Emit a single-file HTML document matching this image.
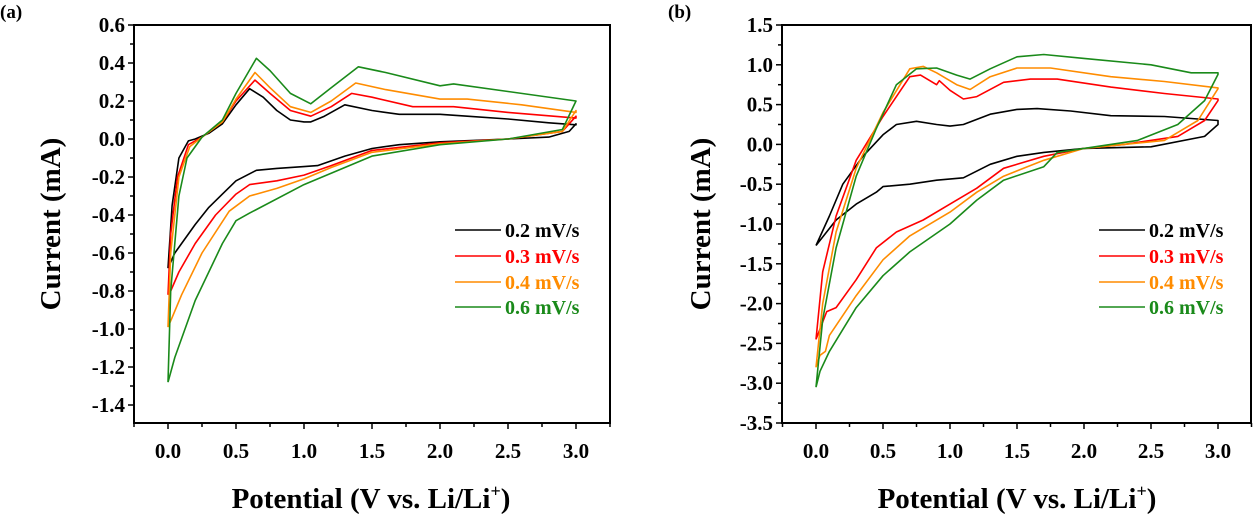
<!DOCTYPE html>
<html><head><meta charset="utf-8"><style>
html,body{margin:0;padding:0;background:#fff;}
svg{display:block;font-family:"Liberation Serif",serif;font-weight:bold;}
</style></head><body>
<svg id="s" width="1260" height="514" viewBox="0 0 1260 514" xmlns="http://www.w3.org/2000/svg"></svg>
<script>
const S=document.getElementById('s');let h='';
const C={k:'#000',r:'#ff0000',o:'#ff8c00',g:'#1a8a1a'};
function panel(p){
 const X=v=>p.x0+p.sx*v, Y=i=>p.y0-p.sy*i;
 h+=`<rect x="${p.L}" y="${p.T}" width="${p.R-p.L}" height="${p.B-p.T}" fill="none" stroke="#000" stroke-width="2"/>`;
 for(let k=-1;k<=13;k++){const v=k*0.25;const x=X(v);if(x<p.L-1||x>p.R+1)continue;const maj=(k%2==0);
  h+=`<line x1="${x}" y1="${p.B}" x2="${x}" y2="${p.B+(maj?6:4)}" stroke="#000" stroke-width="1.5"/>`;
  if(maj&&v>=0) h+=`<text x="${x}" y="${p.B+35}" font-size="21" text-anchor="middle">${v.toFixed(1)}</text>`;}
 for(let i=p.ymin;i<=p.ymax+1e-9;i+=p.ystep/2){const y=Y(i);const maj=Math.abs(Math.round((i-p.ymin)/p.ystep*2))%2==0;
  h+=`<line x1="${p.L}" y1="${y}" x2="${p.L-(maj?6:4)}" y2="${y}" stroke="#000" stroke-width="1.5"/>`;
  if(maj) h+=`<text x="${p.L-9}" y="${y+7}" font-size="21" text-anchor="end">${(Math.abs(i)<1e-9?0:i).toFixed(1)}</text>`;}
 for(const [c,pts] of p.series){h+=`<polyline fill="none" stroke="${C[c]}" stroke-width="1.6" stroke-linejoin="round" points="${pts.map(q=>X(q[0]).toFixed(1)+','+Y(q[1]).toFixed(1)).join(' ')}"/>`;}
 h+=`<text x="${p.xl}" y="508" font-size="29" text-anchor="middle">Potential (V vs. Li/Li<tspan dy="-11" font-size="18">+</tspan><tspan dy="11">)</tspan></text>`;
 h+=`<text transform="translate(${p.yl},224) rotate(-90)" font-size="29" text-anchor="middle">Current (mA)</text>`;
 const lab=['0.2 mV/s','0.3 mV/s','0.4 mV/s','0.6 mV/s'],cs=['k','r','o','g'];
 lab.forEach((t,j)=>{const y=[230,256,282,307][j];h+=`<line x1="${p.lg}" y1="${y}" x2="${p.lg+46}" y2="${y}" stroke="${C[cs[j]]}" stroke-width="1.6"/><text x="${p.lg+50}" y="${y+7}" font-size="20" fill="${C[cs[j]]}">${t}</text>`;});
 h+=`<text x="${p.lx}" y="18" font-size="19">${p.lt}</text>`;
}
panel({x0:168,sx:136,y0:139,sy:190,L:134,R:610,T:25,B:423,ymin:-1.4,ymax:0.6,ystep:0.2,xl:371,yl:60,lg:455,lx:0,lt:'(a)',series:[
['k',[[0,-0.68],[0.03,-0.35],[0.08,-0.1],[0.15,-0.01],[0.2,0],[0.3,0.03],[0.4,0.08],[0.5,0.18],[0.6,0.265],[0.7,0.22],[0.8,0.15],[0.9,0.1],[1.0,0.09],[1.05,0.09],[1.15,0.12],[1.3,0.18],[1.5,0.15],[1.7,0.13],[2.0,0.13],[2.2,0.12],[2.5,0.105],[2.8,0.085],[3.0,0.075],[3.0,0.08],[2.95,0.04],[2.8,0.01],[2.5,0],[2.0,-0.015],[1.7,-0.03],[1.5,-0.05],[1.3,-0.09],[1.1,-0.14],[1.0,-0.145],[0.8,-0.155],[0.65,-0.165],[0.5,-0.22],[0.4,-0.29],[0.3,-0.36],[0.2,-0.45],[0.1,-0.55],[0.05,-0.6],[0,-0.68]]],
['r',[[0,-0.82],[0.02,-0.5],[0.07,-0.2],[0.15,-0.03],[0.25,0.01],[0.4,0.09],[0.5,0.2],[0.64,0.31],[0.75,0.24],[0.9,0.15],[1.05,0.12],[1.2,0.17],[1.35,0.24],[1.5,0.22],[1.8,0.17],[2.1,0.17],[2.5,0.14],[3.0,0.11],[3.0,0.12],[2.9,0.04],[2.5,0],[2.0,-0.02],[1.5,-0.06],[1.2,-0.14],[1.0,-0.19],[0.8,-0.22],[0.6,-0.24],[0.5,-0.29],[0.35,-0.4],[0.2,-0.55],[0.08,-0.7],[0.02,-0.8],[0,-0.82]]],
['o',[[0,-0.99],[0.02,-0.6],[0.08,-0.2],[0.16,-0.04],[0.25,0.01],[0.4,0.09],[0.5,0.21],[0.64,0.35],[0.75,0.27],[0.9,0.17],[1.05,0.14],[1.2,0.2],[1.38,0.295],[1.6,0.26],[2.0,0.21],[2.2,0.21],[2.6,0.18],[3.0,0.14],[3.0,0.15],[2.9,0.04],[2.5,0],[2.0,-0.025],[1.5,-0.07],[1.2,-0.15],[1.0,-0.21],[0.8,-0.26],[0.6,-0.3],[0.45,-0.38],[0.25,-0.6],[0.1,-0.82],[0.03,-0.94],[0,-0.99]]],
['g',[[0,-1.28],[0.02,-0.8],[0.08,-0.3],[0.14,-0.1],[0.25,0.01],[0.4,0.1],[0.5,0.24],[0.65,0.425],[0.75,0.36],[0.9,0.24],[1.05,0.185],[1.2,0.27],[1.4,0.38],[1.6,0.35],[2.0,0.28],[2.1,0.29],[2.5,0.25],[3.0,0.2],[3.0,0.2],[2.9,0.05],[2.5,0],[2.0,-0.03],[1.5,-0.09],[1.0,-0.24],[0.6,-0.39],[0.5,-0.43],[0.4,-0.55],[0.2,-0.85],[0.05,-1.15],[0,-1.28]]]
]});
panel({x0:816,sx:134,y0:144.4,sy:79.6,L:782,R:1251,T:25,B:423,ymin:-3.5,ymax:1.5,ystep:0.5,xl:1017,yl:710,lg:1099,lx:668,lt:'(b)',series:[
['k',[[0,-1.27],[0.1,-0.9],[0.2,-0.5],[0.35,-0.15],[0.5,0.12],[0.6,0.25],[0.75,0.29],[0.9,0.25],[1.0,0.23],[1.1,0.25],[1.3,0.38],[1.5,0.44],[1.65,0.45],[1.9,0.42],[2.2,0.36],[2.6,0.35],[3.0,0.3],[3.0,0.25],[2.9,0.1],[2.5,-0.03],[2.0,-0.05],[1.7,-0.1],[1.5,-0.15],[1.3,-0.25],[1.1,-0.42],[0.9,-0.45],[0.7,-0.5],[0.5,-0.53],[0.45,-0.6],[0.3,-0.75],[0.15,-0.95],[0,-1.27]]],
['r',[[0,-2.45],[0.05,-1.6],[0.15,-0.9],[0.3,-0.2],[0.5,0.35],[0.7,0.85],[0.78,0.87],[0.9,0.75],[0.92,0.8],[1.0,0.68],[1.1,0.57],[1.2,0.6],[1.4,0.78],[1.6,0.82],[1.8,0.82],[2.2,0.72],[2.6,0.64],[3.0,0.57],[3.0,0.55],[2.9,0.3],[2.7,0.1],[2.3,0],[2.0,-0.05],[1.7,-0.15],[1.4,-0.3],[1.2,-0.55],[1.0,-0.75],[0.8,-0.95],[0.6,-1.1],[0.45,-1.3],[0.3,-1.7],[0.15,-2.05],[0.08,-2.1],[0,-2.45]]],
['o',[[0,-2.8],[0.05,-2.0],[0.15,-1.1],[0.3,-0.3],[0.5,0.4],[0.7,0.95],[0.8,0.98],[0.9,0.9],[1.05,0.75],[1.15,0.69],[1.3,0.85],[1.5,0.96],[1.75,0.96],[2.2,0.85],[2.6,0.79],[3.0,0.71],[3.0,0.7],[2.85,0.3],[2.6,0.05],[2.0,-0.05],[1.7,-0.2],[1.4,-0.4],[1.2,-0.6],[1.0,-0.85],[0.7,-1.15],[0.5,-1.45],[0.3,-1.9],[0.1,-2.4],[0.07,-2.6],[0.03,-2.65],[0,-2.8]]],
['g',[[0,-3.05],[0.05,-2.2],[0.15,-1.3],[0.3,-0.4],[0.45,0.2],[0.6,0.75],[0.75,0.95],[0.9,0.96],[1.05,0.87],[1.15,0.82],[1.3,0.95],[1.5,1.1],[1.7,1.13],[2.0,1.08],[2.5,1.0],[2.8,0.9],[3.0,0.9],[3.0,0.88],[2.9,0.55],[2.7,0.25],[2.4,0.05],[2.0,-0.05],[1.8,-0.1],[1.7,-0.28],[1.4,-0.45],[1.2,-0.7],[1.0,-1.0],[0.7,-1.35],[0.5,-1.65],[0.3,-2.05],[0.1,-2.6],[0.03,-2.85],[0,-3.05]]]
]});
S.innerHTML=h;
</script>
</body></html>
